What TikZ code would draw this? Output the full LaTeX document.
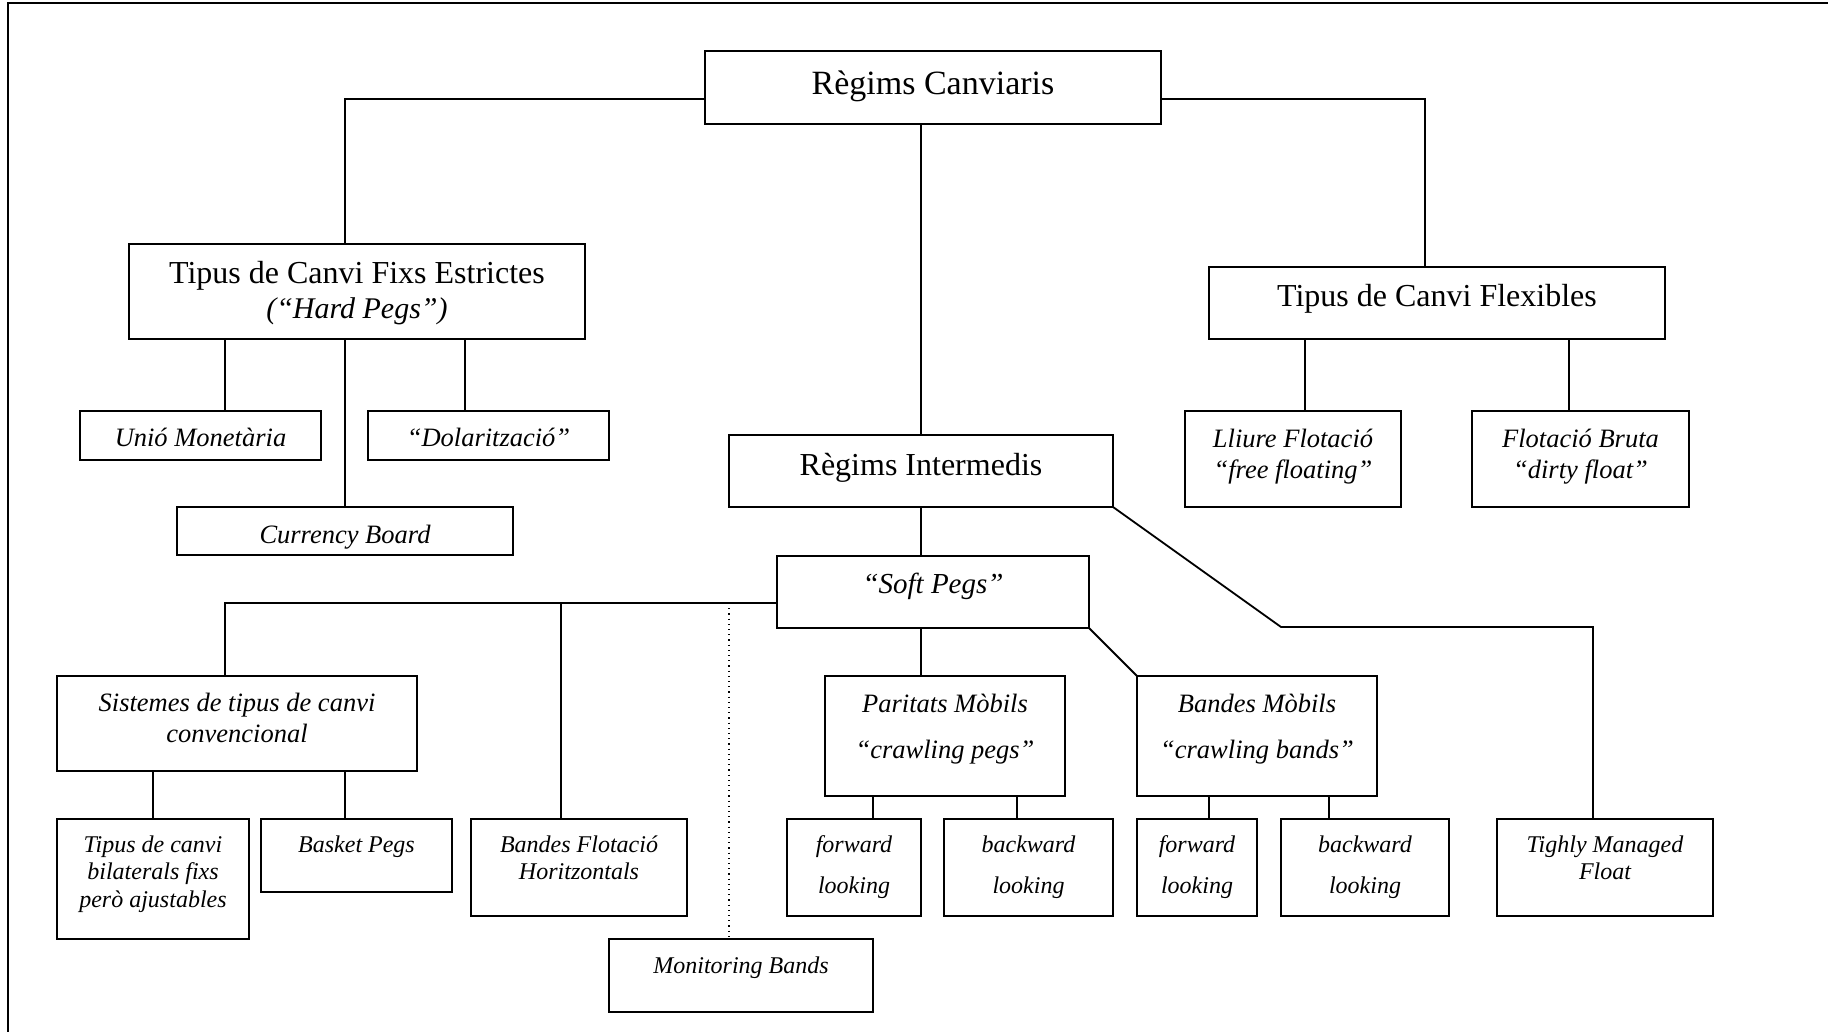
\documentclass[tikz,border=0pt]{standalone}
\usepackage{fontspec}
\setmainfont{Liberation Serif}
\newcommand\mylines[1]{\begin{tabular}[t]{@{}c@{}}#1\end{tabular}}
\begin{document}
\begin{tikzpicture}[x=0.5pt,y=-0.5pt,
  box/.style={draw, line width=1.2pt, inner sep=0pt, outer sep=0pt, anchor=north west},
  conn/.style={line width=0.9pt},
  dotconn/.style={line width=0.6pt, dotted},
  txt/.style={anchor=base, inner sep=0pt, outer sep=0pt},
  rm/.style={txt, font=\fontsize{#1}{20}\selectfont},
  itA/.style={txt, font=\fontsize{13.25}{#1}\selectfont\itshape},
  itB/.style={txt, font=\fontsize{12}{#1}\selectfont\itshape}
]
\useasboundingbox (0,0) rectangle (1828,1032);
\draw[line width=1.2pt] (8,1032) -- (8,3) -- (1828,3);

% boxes
\node[box, minimum width=228pt, minimum height=36.5pt] (root) at (705,51) {};
\node[box, minimum width=228pt, minimum height=47.5pt] (hard) at (129,244) {};
\node[box, minimum width=228pt, minimum height=36pt] (flex) at (1209,267) {};
\node[box, minimum width=120.5pt, minimum height=24.5pt] (unio) at (80,411) {};
\node[box, minimum width=120.5pt, minimum height=24.5pt] (dolar) at (368,411) {};
\node[box, minimum width=168pt, minimum height=24pt] (curr) at (177,507) {};
\node[box, minimum width=192pt, minimum height=36pt] (interm) at (729,435) {};
\node[box, minimum width=108pt, minimum height=48pt] (lliure) at (1185,411) {};
\node[box, minimum width=108.5pt, minimum height=48pt] (bruta) at (1472,411) {};
\node[box, minimum width=156pt, minimum height=36pt] (soft) at (777,556) {};
\node[box, minimum width=180pt, minimum height=47.5pt] (sist) at (57,676) {};
\node[box, minimum width=120pt, minimum height=60pt] (parit) at (825,676) {};
\node[box, minimum width=120pt, minimum height=60pt] (bmob) at (1137,676) {};
\node[box, minimum width=96pt, minimum height=60pt] (bilat) at (57,819) {};
\node[box, minimum width=95.5pt, minimum height=36.5pt] (basket) at (261,819) {};
\node[box, minimum width=108pt, minimum height=48.5pt] (bflot) at (471,819) {};
\node[box, minimum width=67pt, minimum height=48.5pt] (fwdA) at (787,819) {};
\node[box, minimum width=84.5pt, minimum height=48.5pt] (bwdA) at (944,819) {};
\node[box, minimum width=60pt, minimum height=48.5pt] (fwdB) at (1137,819) {};
\node[box, minimum width=84pt, minimum height=48.5pt] (bwdB) at (1281,819) {};
\node[box, minimum width=108pt, minimum height=48.5pt] (tighly) at (1497,819) {};
\node[box, minimum width=132pt, minimum height=36.5pt] (monit) at (609,939) {};

% texts
\node[rm=17] (troot) at (root.center |- 0,95) {Règims Canviaris};
\node[txt, font=\fontsize{16}{17.5}\selectfont] (thard) at (hard.center |- 0,284)
  {\mylines{Tipus de Canvi Fixs Estrictes\\ \fontsize{15}{17.5}\selectfont\itshape(“Hard Pegs”)}};
\node[rm=16] (tflex) at (flex.center |- 0,307) {Tipus de Canvi Flexibles};
\node[rm=16] (tinterm) at (interm.center |- 0,476) {Règims Intermedis};
\node[itA=15.5] (tunio) at (unio.center |- 0,447) {Unió Monetària};
\node[itA=15.5] (tdolar) at (dolar.center |- 0,447) {“Dolarització”};
\node[itA=15.5] (tcurr) at (curr.center |- 0,544) {Currency Board};
\node[itA=15.5] (tlliure) at (lliure.center |- 0,448) {\mylines{Lliure Flotació\\“free floating”}};
\node[itA=15.5] (tbruta) at (bruta.center |- 0,448) {\mylines{Flotació Bruta\\“dirty float”}};
\node[txt, font=\fontsize{14.5}{17}\selectfont\itshape] (tsoft) at (soft.center |- 0,593) {“Soft Pegs”};
\node[itA=15.5] (tsist) at (sist.center |- 0,711) {\mylines{Sistemes de tipus de canvi\\convencional}};
\node[itA=23] (tparit) at (parit.center |- 0,712) {\mylines{Paritats Mòbils\\“crawling pegs”}};
\node[itA=23] (tbmob) at (bmob.center |- 0,712) {\mylines{Bandes Mòbils\\“crawling bands”}};
\node[itB=13.75] (tbilat) at (bilat.center |- 0,852) {\mylines{Tipus de canvi\\bilaterals fixs\\però ajustables}};
\node[itB=13.75] (tbasket) at (basket.center |- 0,852) {Basket Pegs};
\node[itB=13.75] (tbflot) at (bflot.center |- 0,852) {\mylines{Bandes Flotació\\Horitzontals}};
\node[itB=20.5] (tfwdA) at (fwdA.center |- 0,852) {\mylines{forward\\looking}};
\node[itB=20.5] (tbwdA) at (bwdA.center |- 0,852) {\mylines{backward\\looking}};
\node[itB=20.5] (tfwdB) at (fwdB.center |- 0,852) {\mylines{forward\\looking}};
\node[itB=20.5] (tbwdB) at (bwdB.center |- 0,852) {\mylines{backward\\looking}};
\node[itB=13.75] (ttighly) at (tighly.center |- 0,852) {\mylines{Tighly Managed\\Float}};
\node[itB=13.75] (tmonit) at (monit.center |- 0,973) {Monitoring Bands};

% connectors
\draw[conn] (root.west |- 0,99) -| (hard.north -| 345,0);
\draw[conn] (root.east |- 0,99) -| (flex.north -| 1425,0);
\draw[conn] (root.south -| 921,0) -- (interm.north -| 921,0);
\draw[conn] (hard.south -| 225,0) -- (unio.north -| 225,0);
\draw[conn] (hard.south -| 465,0) -- (dolar.north -| 465,0);
\draw[conn] (hard.south -| 345,0) -- (curr.north -| 345,0);
\draw[conn] (flex.south -| 1305,0) -- (lliure.north -| 1305,0);
\draw[conn] (flex.south -| 1569,0) -- (bruta.north -| 1569,0);
\draw[conn] (interm.south -| 921,0) -- (soft.north -| 921,0);
\coordinate (kneeT) at (1281,627);
\draw[conn] (interm.south east) -- (kneeT) -| (tighly.north -| 1593,0);
\coordinate (softJ) at (soft.west |- 0,603);
\draw[conn] (softJ) -| (sist.north -| 225,0);
\draw[conn] (softJ -| 561,0) -- (bflot.north -| 561,0);
\draw[dotconn] (softJ -| 729,0) -- (monit.north -| 729,0);
\draw[conn] (soft.south -| 921,0) -- (parit.north -| 921,0);
\draw[conn] (soft.south east) -- (bmob.north west);
\draw[conn] (sist.south -| 153,0) -- (bilat.north -| 153,0);
\draw[conn] (sist.south -| 345,0) -- (basket.north -| 345,0);
\draw[conn] (parit.south -| 873,0) -- (fwdA.north -| 873,0);
\draw[conn] (parit.south -| 1017,0) -- (bwdA.north -| 1017,0);
\draw[conn] (bmob.south -| 1209,0) -- (fwdB.north -| 1209,0);
\draw[conn] (bmob.south -| 1329,0) -- (bwdB.north -| 1329,0);
\end{tikzpicture}
\end{document}
